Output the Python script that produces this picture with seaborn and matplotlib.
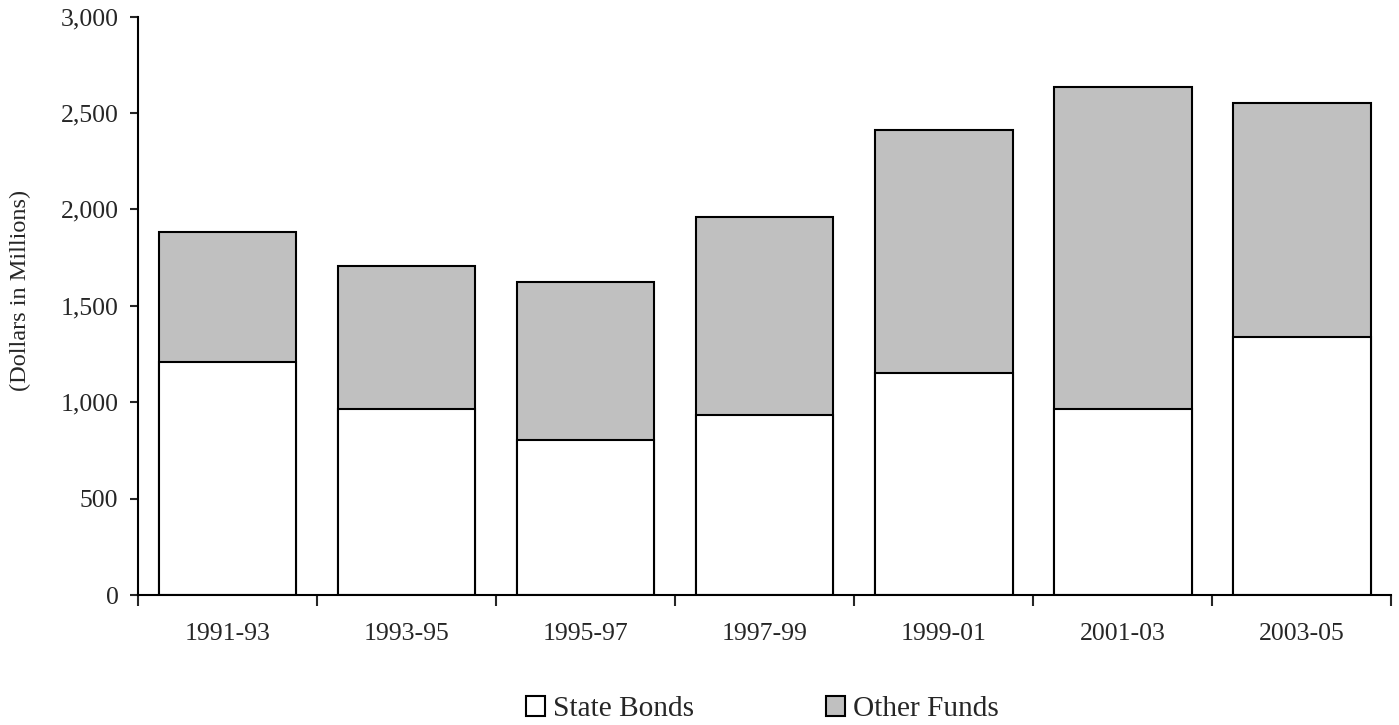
import seaborn as sns
import matplotlib.pyplot as plt
import pandas as pd
from matplotlib.patches import Patch
from matplotlib.ticker import FuncFormatter, FixedLocator

periodos = ['1991-93', '1993-95', '1995-97', '1997-99', '1999-01', '2001-03', '2003-05']
state_bonds = [1209, 965, 806, 934, 1150, 965, 1340]
other_funds = [673, 744, 818, 1029, 1263, 1670, 1211]

df = pd.DataFrame({'periodo': periodos, 'state': state_bonds, 'other': other_funds})
df['total'] = df['state'] + df['other']

sns.set_style('ticks')
plt.rcParams['font.family'] = ['Liberation Serif', 'DejaVu Serif']

fig, ax = plt.subplots(figsize=(13.99, 7.25), dpi=100)
fig.subplots_adjust(left=0.0986, right=0.9944, bottom=0.1793, top=0.977)

# barra total (cinza) e por cima a parte de state bonds (branca)
sns.barplot(data=df, x='periodo', y='total', color='#C0C0C0', saturation=1,
            width=0.77, edgecolor='black', linewidth=1.5, ax=ax)
sns.barplot(data=df, x='periodo', y='state', color='white', saturation=1,
            width=0.77, edgecolor='black', linewidth=1.5, ax=ax)

ax.set_xlim(-0.5, len(periodos) - 0.5)
ax.set_ylim(0, 3000)
ax.set_yticks(range(0, 3001, 500))
ax.yaxis.set_major_formatter(FuncFormatter(lambda v, p: f'{int(v):,}'))

ax.xaxis.set_minor_locator(FixedLocator([i - 0.5 for i in range(len(periodos) + 1)]))
ax.tick_params(axis='x', which='major', length=0, pad=20, labelsize=18.5)
ax.tick_params(axis='x', which='minor', length=8, width=1.5, direction='out')
ax.tick_params(axis='y', length=6, width=1.5, pad=8, labelsize=18.5)

ax.set_xlabel('')
ax.set_ylabel('(Dollars in Millions)', fontsize=17.5)
ax.yaxis.set_label_coords(-0.085, 0.526)

sns.despine(ax=ax)
for s in ['left', 'bottom']:
    ax.spines[s].set_linewidth(1.5)
    ax.spines[s].set_color('black')

handles = [Patch(facecolor='white', edgecolor='black', linewidth=1.5, label='State Bonds'),
           Patch(facecolor='#C0C0C0', edgecolor='black', linewidth=1.5, label='Other Funds')]
fig.legend(handles=handles, loc='center', bbox_to_anchor=(0.545, 0.022), ncol=2,
           frameon=False, fontsize=21.2, handlelength=0.65, handleheight=0.65,
           handletextpad=0.27, columnspacing=4.5, borderpad=0)

plt.savefig('out.png', dpi=100)
